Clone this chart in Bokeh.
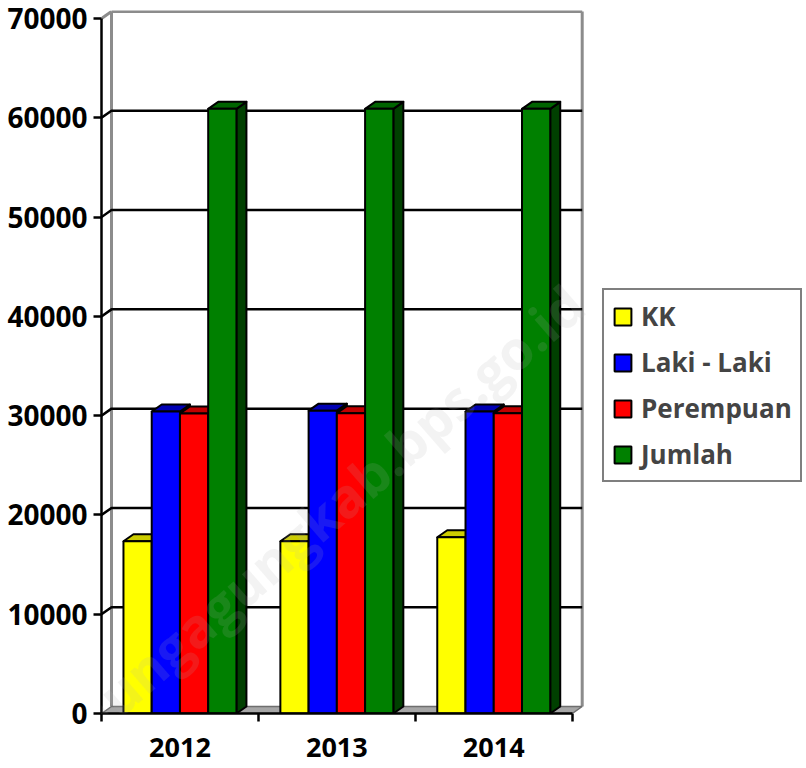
from bokeh.plotting import figure
from bokeh.models import Range1d, FixedTicker, Legend, LegendItem, Label
from bokeh.embed import file_html
from bokeh.resources import INLINE

# ---- data ----
categories = ["2012", "2013", "2014"]
series_names = ["KK", "Laki - Laki", "Perempuan", "Jumlah"]
kk = [17350, 17350, 17750]
laki_laki = [30420, 30500, 30420]
perempuan = [30220, 30250, 30230]
jumlah = [60900, 60900, 60900]
y_ticks = [0, 10000, 20000, 30000, 40000, 50000, 60000, 70000]
watermark = "http://tulungagungkab.bps.go.id"

series_values = [kk, laki_laki, perempuan, jumlah]

# ---- style ----
front_colors = ["#FFFF00", "#0000FF", "#FF0000", "#008000"]
top_colors = ["#CCCC00", "#0000B4", "#C00000", "#006400"]
side_colors = ["#999900", "#000080", "#800000", "#004000"]
WALL = "#8C8C8C"
FONT = "Open Sans"

W, H = 806, 768
BL, BR, BT, BB = 101, 0, 10, 55
fw = W - BL - BR
fh = H - BT - BB
px_x = 156.9            # pixels per category slot
px_y = 695 / 70000      # pixels per unit on value axis
xmax = fw / px_x
ymax = fh / px_y
dxu = 10 / px_x         # depth offset (x) in data units
dyu = 7 / px_y          # depth offset (y) in data units
ncat = len(categories)
bar_w = 0.18
offsets = [-0.27, -0.09, 0.09, 0.27]

p = figure(width=W, height=H, output_backend="svg", toolbar_location=None,
           x_range=Range1d(0, xmax), y_range=Range1d(0, ymax),
           min_border_left=BL, min_border_right=BR, min_border_top=BT,
           min_border_bottom=BB)
p.outline_line_color = None
p.grid.visible = False
p.background_fill_color = "white"
p.border_fill_color = "white"

# back wall edges
zmax = y_ticks[-1]
p.multi_line(xs=[[dxu, dxu], [dxu, ncat + dxu], [ncat + dxu, ncat + dxu], [0, dxu]],
             ys=[[dyu, zmax + dyu], [zmax + dyu, zmax + dyu], [dyu, zmax + dyu], [zmax, zmax + dyu]],
             line_color=WALL, line_width=3)

# gridlines on the back wall (with diagonal from the front axis)
grid_vals = y_ticks[1:-1]
p.multi_line(xs=[[0, dxu, ncat + dxu] for _ in grid_vals],
             ys=[[v, v + dyu, v + dyu] for v in grid_vals],
             line_color="black", line_width=2.5)

# floor
p.patch(x=[0, ncat, ncat + dxu, dxu], y=[0, 0, dyu, dyu],
        fill_color="#A6A6A6", line_color="#6E6E6E", line_width=1.5)

front_renderers = []
for s, vals in enumerate(series_values):
    lefts = [i + 0.5 + offsets[s] - bar_w / 2 for i in range(ncat)]
    rights = [l + bar_w for l in lefts]
    # side faces
    p.patches(xs=[[r, r + dxu, r + dxu, r] for r in rights],
              ys=[[0, dyu, v + dyu, v] for v in vals],
              fill_color=side_colors[s], line_color="black", line_width=2,
              line_join="round")
    # top faces
    p.patches(xs=[[l, r, r + dxu, l + dxu] for l, r in zip(lefts, rights)],
              ys=[[v, v, v + dyu, v + dyu] for v in vals],
              fill_color=top_colors[s], line_color="black", line_width=2,
              line_join="round")
    # front faces
    fr = p.quad(left=lefts, right=rights, top=vals, bottom=[0] * ncat,
                fill_color=front_colors[s], line_color="black", line_width=2)
    front_renderers.append(fr)

# axes
p.yaxis.ticker = FixedTicker(ticks=y_ticks)
p.yaxis.bounds = (0, zmax)
p.yaxis.axis_line_width = 2.5
p.yaxis.axis_line_color = "black"
p.yaxis.major_tick_out = 8
p.yaxis.major_tick_in = 0
p.yaxis.major_tick_line_width = 2.5
p.yaxis.minor_tick_line_color = None
p.yaxis.major_label_text_font = FONT
p.yaxis.major_label_text_font_style = "bold"
p.yaxis.major_label_text_font_size = "28px"
p.yaxis.major_label_text_color = "black"
p.yaxis.major_label_standoff = 6

centers = [i + 0.5 for i in range(ncat)]
p.xaxis.ticker = FixedTicker(ticks=centers, minor_ticks=list(range(ncat + 1)))
p.xaxis.major_label_overrides = {c: lab for c, lab in zip(centers, categories)}
p.xaxis.bounds = (0, ncat)
p.xaxis.axis_line_width = 2.5
p.xaxis.axis_line_color = "black"
p.xaxis.major_tick_out = 0
p.xaxis.major_tick_in = 0
p.xaxis.minor_tick_out = 8
p.xaxis.minor_tick_in = 0
p.xaxis.minor_tick_line_width = 2.5
p.xaxis.minor_tick_line_color = "black"
p.xaxis.major_label_text_font = FONT
p.xaxis.major_label_text_font_style = "bold"
p.xaxis.major_label_text_font_size = "27px"
p.xaxis.major_label_text_color = "black"
p.xaxis.major_label_standoff = 16

# legend
legend = Legend(items=[LegendItem(label=n, renderers=[r]) for n, r in zip(series_names, front_renderers)],
                location=(501, 231))
legend.border_line_color = "black"
legend.border_line_width = 2
legend.background_fill_color = "white"
legend.background_fill_alpha = 1
legend.label_text_font = FONT
legend.label_text_font_style = "bold"
legend.label_text_font_size = "26px"
legend.glyph_width = 21
legend.glyph_height = 21
legend.label_standoff = 8
legend.label_height = 30
legend.padding = 8
legend.spacing = 10
legend.margin = 0
p.add_layout(legend, "center")

# faint watermark
wm = Label(x=(575 - BL) / px_x, y=(713 - 295) / px_y, text=watermark,
           angle=41, angle_units="deg", text_align="right", text_baseline="middle",
           text_font=FONT, text_font_size="54px", text_font_style="bold",
           text_color="#B0B0B0", text_alpha=0.15)
p.add_layout(wm)

open("out.html", "w").write(file_html(p, INLINE))
